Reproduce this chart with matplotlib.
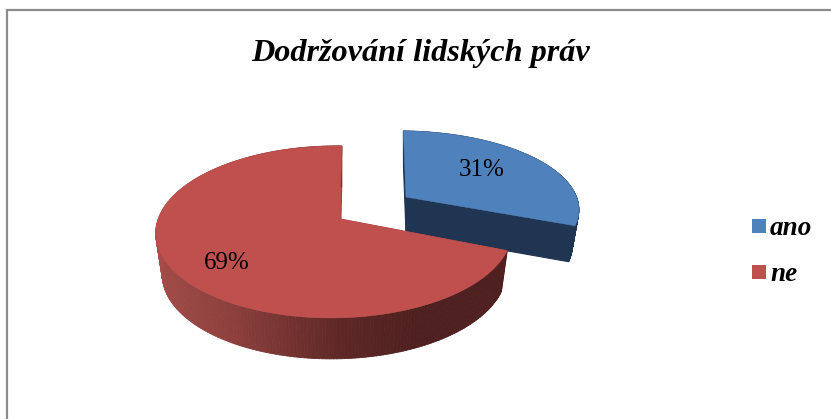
import numpy as np
import matplotlib
matplotlib.use('Agg')
import matplotlib.pyplot as plt
from matplotlib.patches import Polygon, Rectangle
from matplotlib.collections import PolyCollection
from matplotlib.colors import to_rgb

plt.rcParams['font.family'] = ['Liberation Serif', 'DejaVu Serif']

title = 'Dodržování lidských práv'
labels = ['ano', 'ne']
values = [31, 69]

top_colors = ['#4F81BD', '#C0504D']
wall_colors = ['#1F3552', '#9E4543']
# bok kolace: barva podle vodorovne polohy (sin uhlu)
side_u = [-1.0, -0.5, 0.0, 0.4, 1.0]
side_rgb = {
    'ano': ['#1F3552', '#1F3552', '#1F3552', '#1F3552', '#1F3552'],
    'ne': ['#A54D4A', '#8B3F3C', '#5E2826', '#4E201F', '#4E201F'],
}

# pozice vysecu v pixelech: stred, polomery, zkoseni, hloubka, popisek
geom = {
    'ano': dict(cx=406, cy=197, rx=176, ry=76, shear=-3, depth=36, xs=0.962, lab=0.61, lab_turn=-5.3),
    'ne': dict(cx=340, cy=219, rx=176, ry=84, shear=2, depth=41, xs=0.965, lab=0.75, lab_turn=-5),
}
K_V = 0.15
K_U = 0.032


def project(g, theta, r=1.0):
    # uhel po smeru hodin od 12 hodin, jednoducha perspektiva
    u = r * np.sin(theta)
    v = r * np.cos(theta)
    w = 1 + K_V * v + K_U * u
    return g['cx'] + (g['rx'] * u + g['shear'] * v) / w, g['cy'] - g['ry'] * v / w


def lower(g, x, y):
    return g['cx'] + (x - g['cx']) * g['xs'], y + g['depth']


fig = plt.figure(figsize=(8.31, 4.19), dpi=100)
ax = fig.add_axes([0, 0, 1, 1])
ax.set_xlim(0, 831)
ax.set_ylim(419, 0)
ax.axis('off')

# ramecek grafu jen vlevo a nahore
ax.plot([6.5, 6.5, 831], [419, 10, 10], color='#8C8C8C', lw=1.6, solid_joinstyle='miter', zorder=1)

ax.text(421, 54, title, fontsize=23.2, fontweight='bold', style='italic', ha='center', va='center', color='k')

edges = np.cumsum([0] + values) / sum(values) * 2 * np.pi

for i, name in enumerate(labels):
    g = geom[name]
    t0, t1 = edges[i], edges[i + 1]
    th = np.linspace(t0, t1, 240)
    x, y = project(g, th)
    xb, yb = lower(g, x, y)
    ax0, ay0 = project(g, 0.0, 0.0)
    bx0, by0 = lower(g, ax0, ay0)

    # rezy vysece, pod vnejsim bokem
    for xe, ye, xl, yl in [(x[0], y[0], xb[0], yb[0]), (x[-1], y[-1], xb[-1], yb[-1])]:
        ax.add_patch(Polygon([(ax0, ay0), (xe, ye), (xl, yl), (bx0, by0)], closed=True,
                             fc=wall_colors[i], ec=wall_colors[i], lw=0.8, zorder=2 + 3 * i))

    # vnejsi bok po malych kouscich kvuli prechodu
    quads = []
    cols = []
    stops = np.array([to_rgb(c) for c in side_rgb[name]])
    for j in range(len(th) - 1):
        quads.append([(x[j], y[j]), (x[j + 1], y[j + 1]), (xb[j + 1], yb[j + 1]), (xb[j], yb[j])])
        u = np.sin((th[j] + th[j + 1]) / 2)
        cols.append([np.interp(u, side_u, stops[:, k]) for k in range(3)])
    ax.add_collection(PolyCollection(quads, facecolors=cols, edgecolors=cols, linewidths=0.6, zorder=3 + 3 * i))

    # horni plocha
    ax.add_patch(Polygon(np.vstack([[ax0, ay0], np.column_stack([x, y])]), closed=True,
                         fc=top_colors[i], ec=top_colors[i], lw=0.4, zorder=4 + 3 * i))

    # popisek s procenty
    lx, ly = project(g, (t0 + t1) / 2 + np.radians(g['lab_turn']), g['lab'])
    ax.text(lx, ly, '%d%%' % values[i], fontsize=18, ha='center', va='center', color='k', zorder=20)

# legenda
for name, c, yy in zip(labels, top_colors, [226, 272]):
    ax.add_patch(Rectangle((752, yy - 7), 14, 14, fc=c, ec='none', zorder=5))
    ax.text(770, yy + 2, name, fontsize=19.5, fontweight='bold', style='italic', ha='left', va='center', color='k')

fig.savefig('out.png', dpi=100)
